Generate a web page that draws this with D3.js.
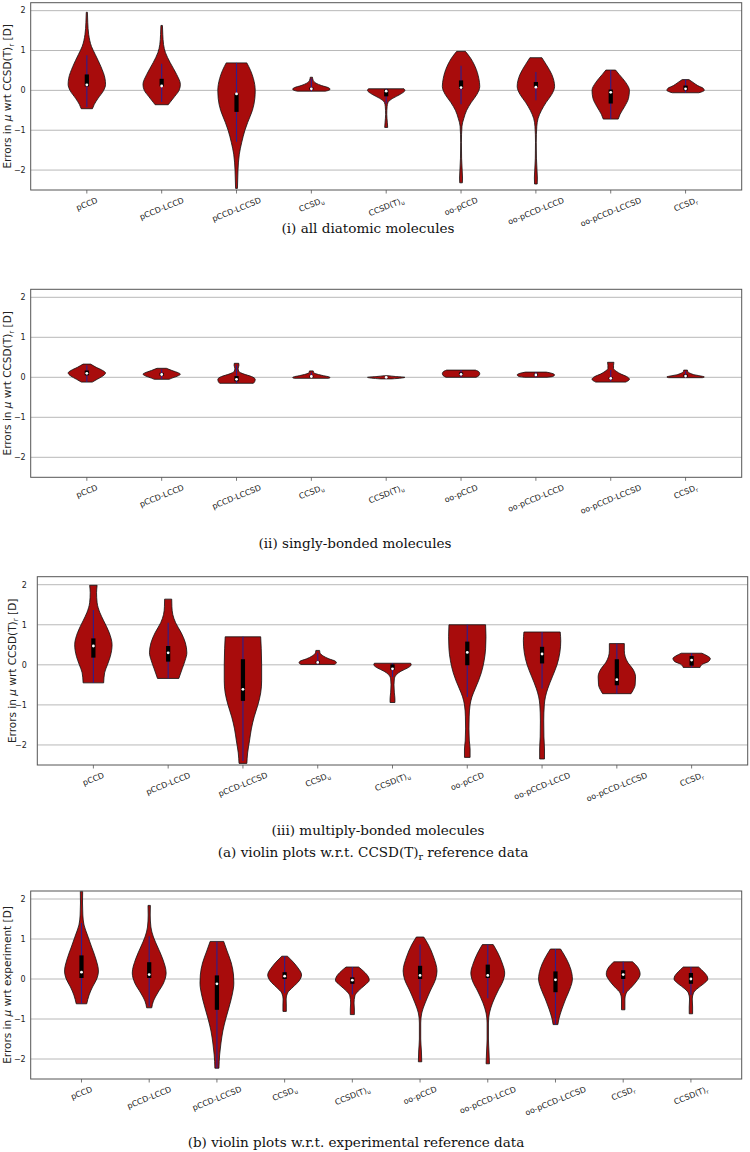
<!DOCTYPE html>
<html>
<head>
<meta charset="utf-8">
<script src="https://cdn.jsdelivr.net/npm/d3@7"></script>
<style>
  html, body { margin: 0; padding: 0; background: #fff; }
  svg { display: block; }
</style>
</head>
<body>
<svg id="chart" width="750" height="1152"></svg>
<script>
// ---------------- DATA ----------------
const catsA = ["pCCD", "pCCD-LCCD", "pCCD-LCCSD", "CCSD_u", "CCSD(T)_u", "oo-pCCD", "oo-pCCD-LCCD", "oo-pCCD-LCCSD", "CCSD_r"];
const catsB = ["pCCD", "pCCD-LCCD", "pCCD-LCCSD", "CCSD_u", "CCSD(T)_u", "oo-pCCD", "oo-pCCD-LCCD", "oo-pCCD-LCCSD", "CCSD_r", "CCSD(T)_r"];
const yTicks = [-2, -1, 0, 1, 2];
const yDomain = [-2.5, 2.2];

// violin outlines: [value, relative half-width] from top to bottom
const profilesAll = [
  [[1.96,0.03],[1.7,0.05],[1.4,0.1],[1.1,0.25],[0.9,0.45],[0.6,0.75],[0.3,0.97],[0.15,1.0],[0.0,0.9],[-0.2,0.6],[-0.35,0.4],[-0.46,0.3]],
  [[1.63,0.04],[1.4,0.06],[1.15,0.1],[0.95,0.2],[0.7,0.45],[0.4,0.8],[0.15,1.0],[0.0,0.93],[-0.15,0.7],[-0.3,0.45],[-0.36,0.35]],
  [[0.69,0.55],[0.5,0.75],[0.3,0.9],[0.0,1.0],[-0.2,0.98],[-0.5,0.85],[-0.8,0.6],[-1.0,0.45],[-1.3,0.28],[-1.6,0.15],[-2.0,0.08],[-2.3,0.06],[-2.46,0.05]],
  [[0.33,0.06],[0.25,0.1],[0.18,0.25],[0.12,0.55],[0.07,0.9],[0.03,1.0],[-0.01,0.85],[-0.02,0.75]],
  [[0.04,0.95],[0.0,1.0],[-0.1,0.75],[-0.2,0.35],[-0.3,0.1],[-0.4,0.05],[-0.6,0.03],[-0.8,0.06],[-0.93,0.08]],
  [[0.98,0.23],[0.85,0.45],[0.6,0.75],[0.3,0.95],[0.1,1.0],[-0.1,0.85],[-0.3,0.55],[-0.5,0.3],[-0.7,0.15],[-0.9,0.05],[-1.3,0.02],[-1.7,0.03],[-2.0,0.06],[-2.2,0.08],[-2.32,0.07]],
  [[0.82,0.32],[0.65,0.55],[0.4,0.85],[0.1,1.0],[-0.1,0.85],[-0.3,0.55],[-0.5,0.3],[-0.7,0.12],[-0.9,0.05],[-1.3,0.02],[-1.7,0.03],[-2.0,0.06],[-2.2,0.08],[-2.35,0.07]],
  [[0.51,0.26],[0.4,0.45],[0.2,0.8],[0.0,1.0],[-0.2,0.95],[-0.4,0.75],[-0.6,0.5],[-0.72,0.4]],
  [[0.27,0.18],[0.2,0.4],[0.12,0.65],[0.05,0.95],[0.0,1.0],[-0.04,0.85],[-0.06,0.7]]
];
// [whisker low, q1, median, q3, whisker high]
const statsAll = [
  [-0.42, 0.1, 0.14, 0.4, 0.88],
  [-0.29, 0.1, 0.11, 0.29, 0.67],
  [-1.29, -0.54, -0.09, -0.08, 0.69],
  [-0.02, 0.02, 0.04, 0.07, 0.3],
  [-0.33, -0.15, -0.02, 0.02, 0.04],
  [-0.35, 0.04, 0.07, 0.25, 0.62],
  [-0.25, 0.07, 0.08, 0.21, 0.46],
  [-0.72, -0.33, -0.05, 0.02, 0.51],
  [-0.06, 0.0, 0.04, 0.12, 0.27]
];

const profilesSingle = [
  [[0.33,0.2],[0.25,0.5],[0.17,0.85],[0.11,1.0],[0.03,0.85],[-0.05,0.55],[-0.12,0.29]],
  [[0.225,0.25],[0.17,0.55],[0.11,0.9],[0.08,1.0],[0.03,0.85],[-0.02,0.55],[-0.05,0.4]],
  [[0.35,0.12],[0.3,0.13],[0.22,0.09],[0.15,0.12],[0.08,0.4],[0.02,0.8],[-0.05,1.0],[-0.11,0.97],[-0.15,0.9]],
  [[0.16,0.1],[0.12,0.12],[0.08,0.3],[0.04,0.65],[0.01,0.95],[-0.01,1.0],[-0.025,0.9]],
  [[0.04,0.1],[0.02,0.5],[0.0,1.0],[-0.02,0.8],[-0.04,0.3]],
  [[0.18,0.77],[0.14,0.95],[0.09,1.0],[0.04,0.95],[0.0,0.8]],
  [[0.13,0.55],[0.1,0.85],[0.06,1.0],[0.02,0.9],[0.0,0.6]],
  [[0.375,0.17],[0.3,0.15],[0.22,0.15],[0.15,0.3],[0.08,0.55],[0.02,0.85],[-0.05,1.0],[-0.12,0.8]],
  [[0.18,0.1],[0.14,0.12],[0.1,0.25],[0.06,0.5],[0.03,0.85],[0.01,1.0],[-0.01,0.9]]
];
const statsSingle = [
  [-0.12, 0.05, 0.1, 0.17, 0.3],
  [-0.04, 0.04, 0.07, 0.11, 0.2],
  [-0.15, -0.1, -0.05, 0.03, 0.3],
  [-0.02, 0.0, 0.02, 0.04, 0.12],
  [-0.03, -0.01, 0.0, 0.01, 0.03],
  [0.0, 0.05, 0.075, 0.12, 0.18],
  [0.0, 0.04, 0.06, 0.09, 0.13],
  [-0.1, -0.05, -0.025, 0.0, 0.18],
  [-0.01, 0.01, 0.03, 0.07, 0.15]
];

const profilesMulti = [
  [[1.985,0.2],[1.8,0.17],[1.55,0.2],[1.3,0.35],[1.1,0.55],[0.8,0.85],[0.5,1.0],[0.2,0.9],[0.0,0.75],[-0.2,0.6],[-0.45,0.55]],
  [[1.64,0.19],[1.45,0.2],[1.25,0.25],[1.05,0.4],[0.8,0.7],[0.55,0.92],[0.3,1.0],[0.1,0.9],[-0.1,0.75],[-0.34,0.57]],
  [[0.7,0.95],[0.4,0.98],[0.0,1.0],[-0.4,1.0],[-0.7,0.95],[-1.0,0.8],[-1.3,0.6],[-1.6,0.45],[-1.9,0.35],[-2.2,0.25],[-2.46,0.21]],
  [[0.36,0.1],[0.3,0.12],[0.22,0.3],[0.15,0.6],[0.09,0.95],[0.05,1.0],[0.01,0.9]],
  [[0.04,0.97],[0.0,1.0],[-0.08,0.8],[-0.16,0.45],[-0.25,0.2],[-0.35,0.1],[-0.5,0.08],[-0.7,0.1],[-0.85,0.13],[-0.94,0.13]],
  [[1.0,0.98],[0.7,1.0],[0.4,0.98],[0.1,0.9],[-0.2,0.75],[-0.4,0.6],[-0.6,0.42],[-0.8,0.25],[-1.0,0.15],[-1.3,0.1],[-1.6,0.09],[-1.9,0.11],[-2.1,0.15],[-2.31,0.15]],
  [[0.82,0.97],[0.6,1.0],[0.3,0.95],[0.0,0.8],[-0.3,0.55],[-0.6,0.3],[-0.8,0.18],[-1.0,0.12],[-1.4,0.09],[-1.8,0.1],[-2.1,0.13],[-2.35,0.13]],
  [[0.53,0.4],[0.35,0.4],[0.2,0.45],[0.05,0.6],[-0.1,0.85],[-0.3,1.0],[-0.5,0.98],[-0.65,0.85],[-0.72,0.76]],
  [[0.29,0.55],[0.22,0.85],[0.16,1.0],[0.08,0.9],[0.02,0.6],[-0.065,0.45]]
];
const statsMulti = [
  [-0.45, 0.18, 0.47, 0.66, 1.37],
  [-0.34, 0.08, 0.3, 0.47, 1.05],
  [-2.4, -0.9, -0.61, 0.14, 0.7],
  [0.01, 0.04, 0.06, 0.09, 0.3],
  [-0.3, -0.13, -0.1, 0.01, 0.04],
  [-0.8, -0.01, 0.31, 0.58, 1.0],
  [-0.59, 0.035, 0.27, 0.45, 0.82],
  [-0.72, -0.51, -0.37, 0.14, 0.53],
  [-0.065, -0.02, 0.12, 0.22, 0.29]
];

const profilesExp = [
  [[2.19,0.07],[1.9,0.06],[1.6,0.08],[1.35,0.15],[1.1,0.35],[0.8,0.6],[0.5,0.85],[0.2,1.0],[0.0,0.9],[-0.2,0.65],[-0.4,0.45],[-0.62,0.31]],
  [[1.84,0.07],[1.6,0.06],[1.3,0.1],[1.05,0.25],[0.8,0.5],[0.5,0.8],[0.15,1.0],[-0.1,0.85],[-0.35,0.5],[-0.55,0.25],[-0.72,0.15]],
  [[0.94,0.4],[0.7,0.6],[0.4,0.85],[0.1,0.98],[-0.1,1.0],[-0.4,0.9],[-0.7,0.72],[-1.0,0.52],[-1.3,0.35],[-1.6,0.24],[-1.9,0.16],[-2.23,0.12]],
  [[0.57,0.17],[0.45,0.45],[0.3,0.75],[0.1,1.0],[-0.05,0.85],[-0.2,0.5],[-0.35,0.17],[-0.5,0.09],[-0.65,0.1],[-0.81,0.1]],
  [[0.3,0.37],[0.2,0.65],[0.05,0.95],[-0.03,1.0],[-0.15,0.75],[-0.3,0.35],[-0.42,0.15],[-0.6,0.1],[-0.75,0.12],[-0.89,0.12]],
  [[1.05,0.22],[0.85,0.5],[0.55,0.8],[0.2,1.0],[0.0,0.92],[-0.3,0.6],[-0.6,0.3],[-0.85,0.1],[-1.1,0.04],[-1.5,0.04],[-1.8,0.08],[-2.07,0.1]],
  [[0.86,0.32],[0.65,0.6],[0.4,0.85],[0.15,1.0],[-0.05,0.9],[-0.3,0.6],[-0.6,0.28],[-0.85,0.1],[-1.1,0.04],[-1.5,0.04],[-1.8,0.07],[-2.12,0.1]],
  [[0.75,0.3],[0.5,0.65],[0.25,0.9],[0.0,1.0],[-0.25,0.85],[-0.5,0.6],[-0.75,0.38],[-1.0,0.2],[-1.14,0.14]],
  [[0.43,0.55],[0.3,0.85],[0.12,1.0],[-0.05,0.8],[-0.2,0.5],[-0.35,0.18],[-0.5,0.1],[-0.65,0.1],[-0.77,0.1]],
  [[0.3,0.45],[0.18,0.75],[0.05,0.98],[0.0,1.0],[-0.12,0.75],[-0.25,0.35],[-0.35,0.15],[-0.5,0.08],[-0.7,0.1],[-0.87,0.1]]
];
const statsExp = [
  [-0.62, 0.025, 0.17, 0.59, 1.4],
  [-0.68, 0.025, 0.11, 0.42, 1.07],
  [-2.23, -0.77, -0.12, 0.09, 0.94],
  [-0.35, 0.0, 0.07, 0.17, 0.57],
  [-0.39, -0.12, -0.03, 0.04, 0.3],
  [-0.52, 0.0, 0.09, 0.33, 0.86],
  [-0.48, 0.025, 0.09, 0.36, 0.86],
  [-1.14, -0.33, -0.02, 0.19, 0.75],
  [-0.35, 0.0, 0.11, 0.22, 0.43],
  [-0.4, -0.12, 0.0, 0.15, 0.3]
];

const yLabelRef = ["Errors in ", {it: "μ"}, " wrt CCSD(T)", {sub: "r"}, " [D]"];
const yLabelExp = ["Errors in ", {it: "μ"}, " wrt experiment [D]"];

const captions = [
  {parts: ["(i) all diatomic molecules"], x: 368, y: 228},
  {parts: ["(ii) singly-bonded molecules"], x: 355, y: 543},
  {parts: ["(iii) multiply-bonded molecules"], x: 378, y: 830},
  {parts: ["(a) violin plots w.r.t. CCSD(T)", {sub: "r"}, " reference data"], x: 373, y: 852},
  {parts: ["(b) violin plots w.r.t. experimental reference data"], x: 356, y: 1142}
];
const captionRefWidth = 337; // width of caption (b)

// ---------------- LAYOUT ----------------
const panels = [
  {cats: catsA, profiles: profilesAll, stats: statsAll, ylabel: yLabelRef, left: 30.7, right: 741.7, top: 2.7, bottom: 190, tickPad: 5, labelX: 11},
  {cats: catsA, profiles: profilesSingle, stats: statsSingle, ylabel: yLabelRef, left: 30.7, right: 741.7, top: 289.3, bottom: 477.3, tickPad: 5, labelX: 11},
  {cats: catsA, profiles: profilesMulti, stats: statsMulti, ylabel: yLabelRef, left: 37.3, right: 747.7, top: 576.7, bottom: 765, tickPad: 10.5, labelX: 15.5},
  {cats: catsB, profiles: profilesExp, stats: statsExp, ylabel: yLabelExp, left: 30.7, right: 741.7, top: 891, bottom: 1079, tickPad: 5, labelX: 11}
];

const FILL = "#a80c0c";
const WHISK = "#2b1f8f";
const GRID = "#b8b8b8";
const FRAME = "#555555";
const SANS = "DejaVu Sans, sans-serif";
const SERIF = "DejaVu Serif, serif";
const TICKFS = 8;
const ANG_DEG = 22;

const svg = d3.select("#chart");

function addParts(textSel, parts, fs) {
  let back = 0;
  parts.forEach(p => {
    if (typeof p === "string") {
      const ts = textSel.append("tspan").text(p);
      if (back) { ts.attr("dy", -back); back = 0; }
    } else if (p.sub) {
      back = fs * 0.25;
      textSel.append("tspan").attr("font-size", fs * 0.7).attr("dy", back).text(p.sub);
    } else if (p.it) {
      textSel.append("tspan").attr("font-style", "italic").text(p.it);
    }
  });
}
function catParts(c) {
  const i = c.indexOf("_");
  if (i < 0) return [c];
  return [c.slice(0, i), {sub: c.slice(i + 1)}];
}

const ANG = ANG_DEG * Math.PI / 180;
const COS = Math.cos(ANG), SIN = Math.sin(ANG);

panels.forEach(P => {
  const n = P.cats.length;
  const x = d3.scaleLinear().domain([0.25, n + 0.75]).range([P.left, P.right]);
  const y = d3.scaleLinear().domain(yDomain).range([P.bottom, P.top]);
  const g = svg.append("g");

  // horizontal grid
  g.selectAll("line.grid").data(yTicks).enter().append("line")
    .attr("x1", P.left).attr("x2", P.right)
    .attr("y1", d => y(d)).attr("y2", d => y(d))
    .attr("stroke", GRID).attr("stroke-width", 1);

  // y tick labels
  g.selectAll("text.yt").data(yTicks).enter().append("text")
    .attr("x", P.left - P.tickPad).attr("y", d => y(d)).attr("dy", "0.35em")
    .attr("text-anchor", "end")
    .attr("font-family", SANS).attr("font-size", 8).attr("fill", "#222")
    .text(d => d < 0 ? "\u2212" + Math.abs(d) : d);

  // violins
  const hw = x(1.25) - x(1);
  P.profiles.forEach((prof, i) => {
    const cx = x(i + 1);
    const area = d3.area()
      .y(d => y(d[0]))
      .x0(d => cx - d[1] * hw)
      .x1(d => cx + d[1] * hw)
      .curve(d3.curveMonotoneY);
    g.append("path").attr("d", area(prof))
      .attr("fill", FILL).attr("stroke", "#111").attr("stroke-width", 0.8)
      .attr("stroke-linejoin", "round");
    const s = P.stats[i];
    g.append("line").attr("x1", cx).attr("x2", cx)
      .attr("y1", y(s[0])).attr("y2", y(s[4]))
      .attr("stroke", WHISK).attr("stroke-width", 1.1);
    g.append("rect").attr("x", cx - 2.1).attr("width", 4.2)
      .attr("y", y(s[3])).attr("height", Math.max(0.8, y(s[1]) - y(s[3])))
      .attr("fill", "#000");
    g.append("circle").attr("cx", cx).attr("cy", y(s[2])).attr("r", 1.4).attr("fill", "#fff");
  });

  // frame
  g.append("rect").attr("x", P.left).attr("y", P.top)
    .attr("width", P.right - P.left).attr("height", P.bottom - P.top)
    .attr("fill", "none").attr("stroke", FRAME).attr("stroke-width", 1);

  // x ticks + slanted labels
  P.cats.forEach((c, i) => {
    const cx = x(i + 1);
    g.append("line").attr("x1", cx).attr("x2", cx)
      .attr("y1", P.bottom).attr("y2", P.bottom + 3.5)
      .attr("stroke", FRAME).attr("stroke-width", 0.8);
    const t = g.append("text")
      .attr("font-family", SANS).attr("font-size", TICKFS).attr("fill", "#222")
      .attr("text-anchor", "middle").attr("dy", "0.35em");
    addParts(t, catParts(c), TICKFS);
    const w = t.node().getComputedTextLength();
    const h = w * SIN + TICKFS * COS;
    t.attr("transform", `translate(${cx},${P.bottom + 6 + h / 2}) rotate(${-ANG_DEG})`);
  });

  // y label
  const yl = g.append("text")
    .attr("font-family", SANS).attr("font-size", 10.5).attr("fill", "#222")
    .attr("text-anchor", "middle")
    .attr("transform", "translate(" + P.labelX + "," + ((P.top + P.bottom) / 2) + ") rotate(-90)");
  addParts(yl, P.ylabel, 10.5);
});

// captions share one font size, calibrated on caption (b)
const probe = svg.append("text").attr("font-family", SERIF).attr("font-size", 12)
  .text("(b) violin plots w.r.t. experimental reference data");
const capFs = 12 * captionRefWidth / probe.node().getComputedTextLength();
probe.remove();
captions.forEach(c => {
  const t = svg.append("text").attr("x", c.x).attr("y", c.y).attr("dy", "0.35em")
    .attr("text-anchor", "middle")
    .attr("font-family", SERIF).attr("font-size", capFs).attr("fill", "#111");
  addParts(t, c.parts, capFs);
});
</script>
</body>
</html>
